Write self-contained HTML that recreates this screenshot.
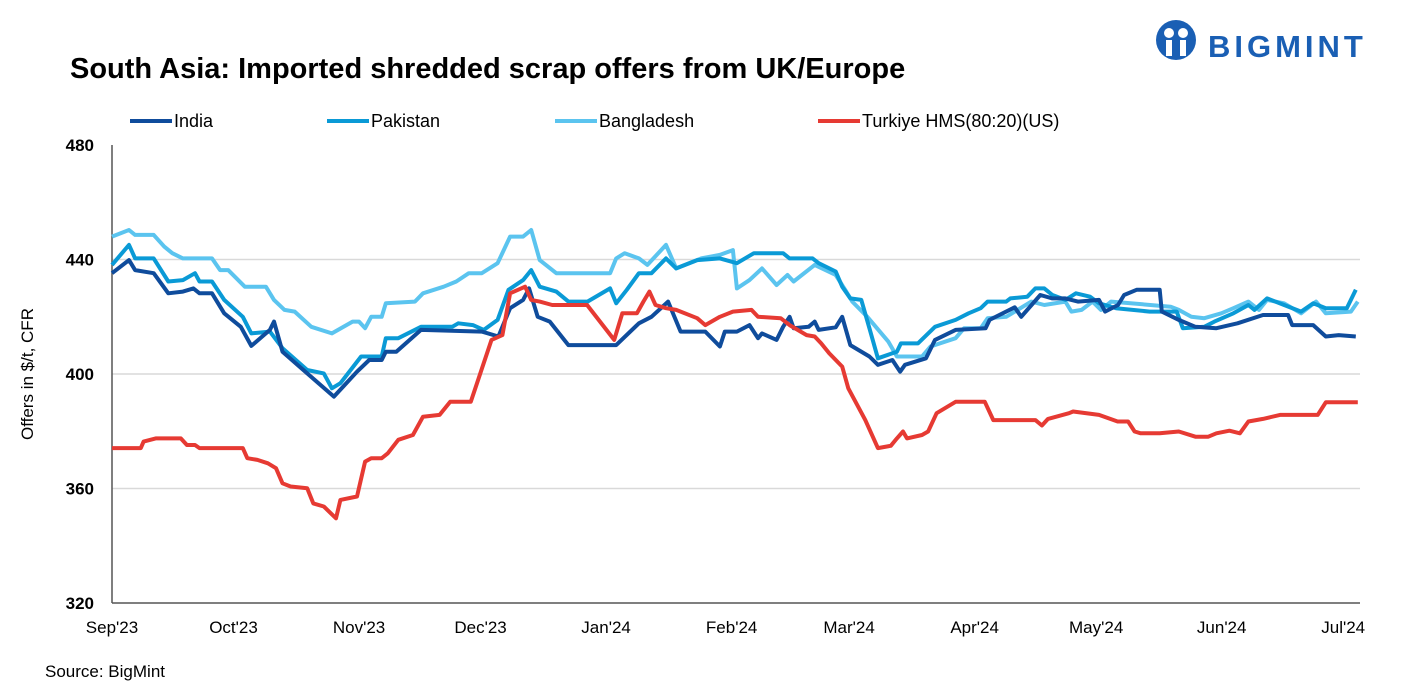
<!DOCTYPE html>
<html><head><meta charset="utf-8"><style>
body{margin:0;background:#fff;width:1402px;height:693px;overflow:hidden;font-family:"Liberation Sans",sans-serif}
</style></head><body>
<svg width="1402" height="693" xmlns="http://www.w3.org/2000/svg" font-family="Liberation Sans, sans-serif">
<text x="70" y="78" font-size="29" font-weight="bold" fill="#000">South Asia: Imported shredded scrap offers from UK/Europe</text>
<g>
<circle cx="1176" cy="40" r="20" fill="#1a5fb4"/>
<circle cx="1169" cy="33" r="5" fill="#fff"/><circle cx="1183" cy="33" r="5" fill="#fff"/>
<rect x="1166" y="40" width="6" height="16" fill="#fff"/><rect x="1180" y="40" width="6" height="16" fill="#fff"/>
<text x="1208" y="57" font-size="31" font-weight="bold" fill="#1a5fb4" letter-spacing="4">BIGMINT</text>
</g>
<g id="legend"></g>
<g id="grid"></g>
<line x1="112" y1="145" x2="112" y2="603" stroke="#555" stroke-width="1.5"/>
<line x1="112" y1="603" x2="1360" y2="603" stroke="#555" stroke-width="1.5"/>
<g id="series"></g>
<text transform="translate(33,374) rotate(-90)" text-anchor="middle" font-size="17" fill="#000">Offers in $/t, CFR</text>
<text x="45" y="677" font-size="17" fill="#000">Source: BigMint</text>
</svg>
<script>
const yTicks=[320,360,400,440,480];
const xLabels=["Sep'23","Oct'23","Nov'23","Dec'23","Jan'24","Feb'24","Mar'24","Apr'24","May'24","Jun'24","Jul'24"];
const xLabelDays=[0,30,61,91,122,153,182,213,243,274,304];
const seriesNames=["India","Pakistan","Bangladesh","Turkiye HMS(80:20)(US)"];
const india=[[0,435.2],[4.2,439.8],[5.7,436.3],[10.3,435.2],[13.9,428.2],[17.5,428.8],[20.1,429.9],[21.6,428.2],[24.7,428.2],[27.7,421.2],[31.8,416.5],[34.4,409.8],[39,415.4],[40,418.3],[42.1,407.8],[48.2,400.2],[54.8,392.1],[60.5,400.8],[63.5,404.9],[66.6,404.9],[67.6,407.8],[70.2,407.8],[76.3,415.4],[91.3,414.8],[95.4,413.1],[98.3,423],[101.5,425.9],[103,429.9],[105.1,420],[108.1,418.3],[112.7,410.1],[124.5,410.1],[130.1,417.7],[133.2,420],[137.3,425.3],[140.4,414.8],[146.5,414.8],[150.1,409.6],[151.3,414.8],[154.3,414.8],[157.4,417.1],[159.5,412.5],[160.5,414.2],[164.1,411.9],[165.7,416.5],[167.3,420],[168.3,416],[172,416.5],[173.5,418.3],[174.5,415.4],[178.7,416.3],[180.3,420],[182.3,410.1],[187,406.1],[189.1,403.2],[192.7,404.9],[194.6,400.8],[195.8,403.2],[201,405.5],[203.2,411.9],[208.3,415.4],[215.7,416],[216.7,418.9],[222.9,423.3],[224.5,420],[229.2,427.6],[232.2,426.4],[235.4,426.4],[238.5,425.3],[243.7,425.9],[245.2,421.8],[248.4,424.1],[249.9,427.6],[253,429.4],[258.7,429.4],[259.2,421.8],[263.4,418.9],[267.5,416.5],[272.7,416],[277.9,417.7],[284.2,420.6],[290.4,420.6],[291.4,417.1],[296.6,417.1],[299.7,413.1],[302.9,413.6],[307.1,413.1]];
const pakistan=[[0,438.1],[4.2,445.1],[5.7,440.4],[10.3,440.4],[13.9,432.3],[17.5,432.8],[20.5,435.2],[21.6,432.3],[24.7,432.3],[27.7,425.9],[32.3,420],[34.4,414.2],[39,414.8],[42.1,409],[48.2,401.4],[52.3,400.2],[54.3,395],[56.4,396.8],[61.5,406.1],[66.6,406.1],[67.6,412.5],[70.7,412.5],[76.3,416.5],[84,416.5],[85.5,417.7],[89.1,417.1],[91.8,415.4],[95.2,418.9],[97.9,429.4],[101.5,432.8],[103.5,436.3],[105.6,430.5],[109.7,428.8],[112.7,425.3],[117.4,425.3],[123,429.9],[124.5,424.7],[127.1,429.4],[130.1,435.2],[133.2,435.2],[136.8,440.4],[139.3,436.9],[144.5,439.8],[150.1,440.4],[154.3,438.7],[158.5,442.2],[165.7,442.2],[167.3,440.4],[173,440.4],[174.5,438.7],[178.7,435.8],[180.3,430.5],[182.3,426.4],[185,425.9],[187,416],[189.1,405.5],[193.8,407.8],[194.8,410.7],[199,410.7],[203.2,416.5],[208.3,418.9],[211.5,421.2],[214.5,423],[216.2,425.3],[220.8,425.3],[221.8,426.4],[226,427],[228,429.9],[230.2,429.9],[232.2,427.6],[235.4,425.9],[238,428.2],[241.5,427],[243.7,424.7],[247.9,423],[256.2,421.8],[262.9,421.8],[264.4,416],[269.7,416.5],[272.2,418.3],[276.9,421.2],[280.6,424.1],[282.1,422.4],[285.2,426.4],[289.4,424.1],[293.6,421.8],[296.6,424.7],[299.7,423],[304.9,423],[307.1,429.4]];
const bangladesh=[[0,448],[4.2,450.3],[5.7,448.6],[10.3,448.6],[12.9,444.5],[14.9,442.2],[17.5,440.4],[24.7,440.4],[26.7,436.3],[28.7,436.3],[32.8,430.5],[38,430.5],[40,425.9],[42.6,422.4],[45.1,421.8],[49.2,416.5],[54.3,414.2],[59.4,418.3],[61,418.3],[62.5,416],[64,420],[66.6,420],[67.6,424.7],[74.8,425.3],[76.8,428.2],[81.9,430.5],[85,432.3],[88.1,435.2],[91.3,435.2],[95.2,438.7],[98.3,448],[101.5,448],[103.5,450.3],[105.6,439.8],[109.7,435.2],[123,435.2],[124.5,440.4],[126.6,442.2],[130.1,440.4],[132.2,438.1],[136.8,445.1],[139.3,436.9],[145.5,440.4],[150.1,441.6],[153.3,443.3],[154.3,429.9],[157.4,432.8],[160.5,436.9],[164.1,431.1],[166.8,434.6],[168.3,432.3],[173.5,438.1],[178.7,434.6],[181.3,428.8],[182.8,425.3],[186.5,420],[191.7,411.3],[193.8,406.1],[200,406.1],[202.1,409.6],[208.3,412.5],[210.4,416],[214.5,416],[216.2,419.5],[220.8,420],[227,425.3],[230.2,424.1],[235.4,425.3],[236.9,421.8],[239.4,422.4],[242.1,425.3],[244.2,422.4],[246.7,425.3],[261.4,423.5],[263.4,422.4],[266.5,420],[269.7,419.5],[273.9,421.2],[276.9,423],[280.6,425.3],[283.2,422.4],[285.2,425.9],[289.4,424.7],[293.6,421.2],[297.3,425.3],[299.7,421.2],[305.9,421.8],[307.6,425.3]];
const turkiye=[[0,374.1],[7.1,374.1],[7.8,376.4],[10.8,377.5],[17,377.5],[18.5,375.2],[20.5,375.2],[21.6,374.1],[32.3,374.1],[33.4,370.6],[35.9,370],[38.5,368.8],[40.5,367.1],[42.1,361.8],[44.1,360.7],[48.2,360.1],[49.7,354.8],[52.3,353.7],[55.3,349.6],[56.4,356],[60.5,357.2],[62.5,369.4],[64,370.6],[66.6,370.6],[68.1,372.3],[70.7,377],[74.3,378.7],[76.8,385.1],[80.9,385.7],[83.5,390.3],[88.6,390.3],[93.7,411.9],[96.4,413.6],[98.3,428.2],[102,430.5],[103.5,425.9],[105.6,425.3],[108.7,424.1],[117.3,424.1],[124,411.9],[126,421.2],[129.6,421.2],[131.2,425.3],[132.7,428.8],[134.2,424.1],[136.8,423],[139.3,422.4],[144.5,419.5],[146.5,417.1],[150.1,420],[153.3,421.8],[157.9,422.4],[159.5,420],[165.1,419.5],[167.3,417.1],[171.5,413.6],[173.5,413.1],[175.1,410.7],[177.1,407.2],[180.3,402.6],[181.8,395],[186,383.9],[189.1,374.1],[192.3,374.9],[193.8,377.5],[195.3,379.9],[196.3,377.5],[200,378.7],[201.5,379.9],[203.6,386.3],[208.3,390.3],[215.5,390.3],[217.6,383.9],[228,383.9],[229.6,382],[231.1,384.3],[236.3,386.3],[237.3,386.9],[243.7,385.7],[248.3,383.4],[250.9,383.4],[252.5,379.9],[254,379.3],[258.7,379.3],[263.4,379.9],[267.5,378.1],[270.7,378.1],[272.7,379.3],[275.9,380.2],[278.5,379.3],[280.6,383.4],[284.2,384.3],[288.4,385.7],[297.7,385.7],[299.7,390.1],[307.6,390.1]];
const colors=["#0f4c9c","#0a9ad6","#5bc4ef","#e63a33"];
const NS="http://www.w3.org/2000/svg";
const xS=d=>112+d*4.05;
const yS=v=>145+(480-v)*2.8625;
const grid=document.getElementById('grid');
yTicks.forEach(t=>{
  if(t>320&&t<480){const l=document.createElementNS(NS,'line');
  l.setAttribute('x1',112);l.setAttribute('x2',1360);l.setAttribute('y1',yS(t));l.setAttribute('y2',yS(t));
  l.setAttribute('stroke','#d9d9d9');l.setAttribute('stroke-width','1.5');
  
  
  grid.appendChild(l);}
  const tx=document.createElementNS(NS,'text');
  tx.setAttribute('x',94);tx.setAttribute('y',yS(t)+6);tx.setAttribute('text-anchor','end');
  tx.setAttribute('font-size','17');tx.setAttribute('font-weight','bold');tx.textContent=t;
  
  
  grid.appendChild(tx);
});
xLabels.forEach((lab,i)=>{
  const tx=document.createElementNS(NS,'text');
  tx.setAttribute('x',xS(xLabelDays[i]));tx.setAttribute('y',633);tx.setAttribute('text-anchor','middle');
  tx.setAttribute('font-size','17');tx.textContent=lab;
  
  
  grid.appendChild(tx);
});
const ser=document.getElementById('series');
const names=['india-line','pakistan-line','bangladesh-line','turkiye-line'];
[bangladesh,pakistan,india,turkiye].forEach((data,k)=>{
  const idx=[2,1,0,3][k];
  const p=document.createElementNS(NS,'polyline');
  p.setAttribute('points',data.map(d=>xS(d[0]).toFixed(1)+','+yS(d[1]).toFixed(1)).join(' '));
  p.setAttribute('fill','none');p.setAttribute('stroke',colors[idx]);p.setAttribute('stroke-width','4');
  p.setAttribute('stroke-linejoin','round');
  
  
  ser.appendChild(p);
});
const leg=document.getElementById('legend');
const legX=[130,327,555,818];
seriesNames.forEach((n,i)=>{
  const l=document.createElementNS(NS,'line');
  l.setAttribute('x1',legX[i]);l.setAttribute('x2',legX[i]+42);l.setAttribute('y1',121);l.setAttribute('y2',121);
  l.setAttribute('stroke',colors[i]);l.setAttribute('stroke-width','4');
  
  
  leg.appendChild(l);
  const t=document.createElementNS(NS,'text');
  t.setAttribute('x',legX[i]+44);t.setAttribute('y',127);t.setAttribute('font-size','18');t.textContent=n;
  
  
  leg.appendChild(t);
});
</script>
</body></html>
